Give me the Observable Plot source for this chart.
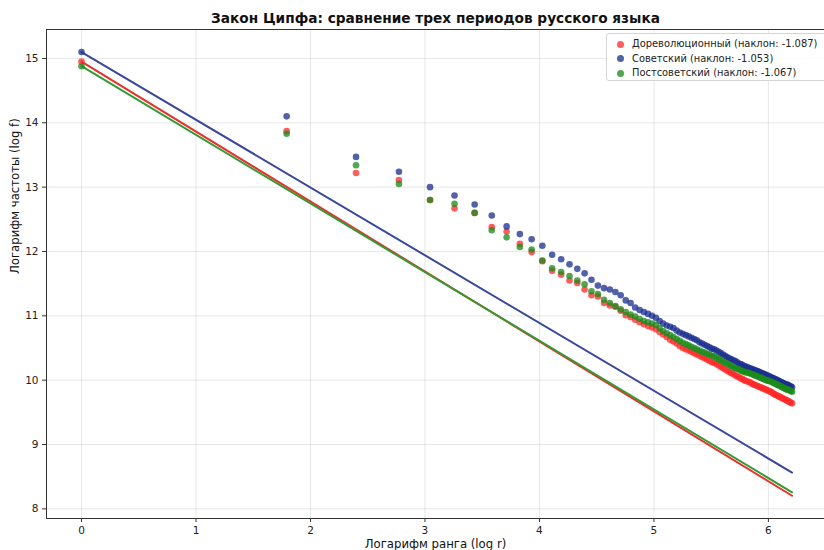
<!DOCTYPE html>
<html>
<head>
<meta charset="utf-8">
<script src="https://cdn.jsdelivr.net/npm/d3@7"></script>
<script src="https://cdn.jsdelivr.net/npm/@observablehq/plot@0.6"></script>
<style>
  body { margin: 0; background: #fff; font-family: "DejaVu Sans", sans-serif; }
  #wrap { position: relative; width: 824px; height: 550px; overflow: hidden; }
  #legend { position: absolute; left: 606px; top: 33px; width: 240px; height: 48px;
    border: 1px solid #d5d5d5; border-radius: 3px; background: rgba(255,255,255,0.85);
    font: 9.9px "DejaVu Sans", sans-serif; color: #222; box-sizing: border-box; }
  .row { position: absolute; left: 0; height: 14px; line-height: 14px; white-space: nowrap; }
  .dot { position: absolute; left: 10px; top: 3.5px; width: 7px; height: 7px; border-radius: 50%; }
  .lbl { position: absolute; left: 25px; top: 0; }
</style>
</head>
<body>
<div id="wrap"><div id="chart"></div><div id="legend"></div></div>
<script>
const title = "Закон Ципфа: сравнение трех периодов русского языка";
const xLabel = "Логарифм ранга (log r)";
const yLabel = "Логарифм частоты (log f)";
const seriesNames = ["Дореволюционный", "Советский", "Постсоветский"];
const slopes = [-1.087, -1.053, -1.067];
const intercepts = [14.95, 15.10, 14.88];
const pointColors = ["#ff2a2a", "#1a2f8f", "#1a8a1a"];
const lineColors = ["#e8302c", "#3a489c", "#349a34"];
const xTicks = [0, 1, 2, 3, 4, 5, 6];
const yTicks = [8, 9, 10, 11, 12, 13, 14, 15];

const ranks = [1,6,11,16,21,26,31,36,41,46,51,56,61,66,71,76,81,86,91,96,
  101,106,111,116,121,126,131,136,141,146,151,156,161,166,171,176,181,186,191,196,
  201,206,211,216,221,226,231,236,241,246,251,256,261,266,271,276,281,286,291,296,
  301,306,311,316,321,326,331,336,341,346,351,356,361,366,371,376,381,386,391,396,
  401,406,411,416,421,426,431,436,441,446,451,456,461,466,471,476,481,486,491,496];

const preRev = [14.95,13.87,13.22,13.11,12.80,12.67,12.60,12.38,12.31,12.12,11.99,11.85,11.70,11.64,11.55,11.51,11.41,11.32,11.30,11.20,
  11.16,11.14,11.08,11.01,10.98,10.94,10.90,10.87,10.84,10.82,10.79,10.75,10.71,10.67,10.63,10.60,10.57,10.53,10.50,10.48,
  10.46,10.44,10.42,10.40,10.38,10.36,10.34,10.32,10.30,10.28,10.27,10.25,10.23,10.21,10.19,10.17,10.15,10.13,10.11,10.10,
  10.08,10.06,10.05,10.03,10.02,10.00,9.99,9.98,9.97,9.96,9.94,9.93,9.92,9.91,9.90,9.89,9.88,9.87,9.86,9.85,
  9.84,9.83,9.82,9.81,9.79,9.78,9.77,9.76,9.75,9.74,9.73,9.72,9.71,9.70,9.69,9.68,9.67,9.66,9.65,9.64];

const soviet = [15.10,14.10,13.47,13.24,13.00,12.87,12.73,12.56,12.39,12.27,12.19,12.09,11.95,11.88,11.80,11.73,11.66,11.56,11.47,11.43,
  11.41,11.37,11.32,11.24,11.20,11.13,11.09,11.06,11.03,11.00,10.97,10.92,10.88,10.85,10.83,10.81,10.77,10.74,10.72,10.70,
  10.68,10.66,10.64,10.62,10.59,10.57,10.55,10.53,10.51,10.49,10.48,10.46,10.44,10.42,10.40,10.38,10.36,10.34,10.33,10.31,
  10.30,10.28,10.26,10.25,10.24,10.22,10.21,10.20,10.19,10.18,10.17,10.16,10.15,10.14,10.13,10.12,10.11,10.10,10.09,10.08,
  10.07,10.06,10.05,10.04,10.03,10.02,10.01,10.00,9.99,9.98,9.97,9.96,9.95,9.94,9.93,9.93,9.92,9.91,9.90,9.89];

const postSov = [14.88,13.83,13.34,13.05,12.80,12.74,12.60,12.33,12.22,12.07,12.03,11.86,11.74,11.68,11.62,11.55,11.49,11.38,11.34,11.25,
  11.20,11.15,11.10,11.06,11.02,10.99,10.95,10.92,10.90,10.88,10.86,10.81,10.76,10.73,10.70,10.67,10.64,10.61,10.58,10.56,
  10.54,10.52,10.50,10.48,10.46,10.44,10.43,10.41,10.40,10.38,10.37,10.35,10.33,10.31,10.29,10.27,10.26,10.24,10.22,10.21,
  10.19,10.18,10.17,10.15,10.14,10.13,10.12,10.12,10.11,10.10,10.09,10.08,10.07,10.06,10.05,10.04,10.03,10.02,10.01,10.00,
  9.99,9.99,9.98,9.97,9.96,9.95,9.94,9.93,9.92,9.91,9.90,9.89,9.88,9.87,9.86,9.85,9.85,9.84,9.83,9.82];

const seriesValues = [preRev, soviet, postSov];

const points = seriesValues.flatMap((vals, i) =>
  ranks.map((r, j) => ({x: Math.log(r), y: vals[j], s: i})));

const xMax = Math.log(ranks[ranks.length - 1]);
const lines = seriesNames.flatMap((n, i) => [
  {x: 0, y: intercepts[i], s: i},
  {x: xMax, y: intercepts[i] + slopes[i] * xMax, s: i}
]);

const xDom = [-0.306, 6.49];
const yDom = [7.85, 15.45];
const fmt = d => String(d);

const chart = Plot.plot({
  width: 824,
  height: 550,
  marginLeft: 46,
  marginRight: 0,
  marginTop: 29,
  marginBottom: 32,
  style: {fontFamily: "DejaVu Sans, sans-serif", background: "white", color: "#222"},
  x: {domain: xDom},
  y: {domain: yDom},
  marks: [
    Plot.gridX(xTicks, {stroke: "#b0b0b0", strokeOpacity: 0.3}),
    Plot.gridY(yTicks, {stroke: "#b0b0b0", strokeOpacity: 0.3}),
    ...[0, 1, 2].map(i => Plot.line(lines.filter(d => d.s === i),
      {x: "x", y: "y", stroke: lineColors[i], strokeWidth: 2})),
    ...[0, 1, 2].map(i => Plot.dot(points.filter(d => d.s === i),
      {x: "x", y: "y", r: 3.3, fill: pointColors[i], fillOpacity: 0.76, stroke: "none"})),
    Plot.ruleX([xDom[0]], {stroke: "#333", strokeWidth: 1}),
    Plot.ruleY([yDom[0], yDom[1]], {stroke: "#333", strokeWidth: 1}),
    Plot.axisX(xTicks, {tickSize: 4, tickPadding: 4, fontSize: 10.5, label: null, stroke: "#333", color: "#222", tickFormat: fmt}),
    Plot.axisY(yTicks, {tickSize: 4, tickPadding: 4, fontSize: 10.5, label: null, stroke: "#333", color: "#222", tickFormat: fmt}),
    Plot.text([xLabel], {frameAnchor: "bottom", lineAnchor: "middle", dy: 26, fontSize: 11.7, fill: "#111"}),
    Plot.text([yLabel], {frameAnchor: "left", lineAnchor: "middle", dx: -31, rotate: -90, fontSize: 11.7, fill: "#111"}),
    Plot.text([title], {frameAnchor: "top", lineAnchor: "middle", dy: -11, fontSize: 13.7, fontWeight: "bold", fill: "#111"})
  ]
});
document.getElementById("chart").appendChild(chart);

const legend = document.getElementById("legend");
seriesNames.forEach((n, i) => {
  const row = document.createElement("div");
  row.className = "row";
  row.style.top = (3 + i * 14.5) + "px";
  row.innerHTML = `<span class="dot" style="background:${pointColors[i]};opacity:0.76"></span><span class="lbl">${n} (наклон: ${slopes[i].toFixed(3)})</span>`;
  legend.appendChild(row);
});
</script>
</body>
</html>
